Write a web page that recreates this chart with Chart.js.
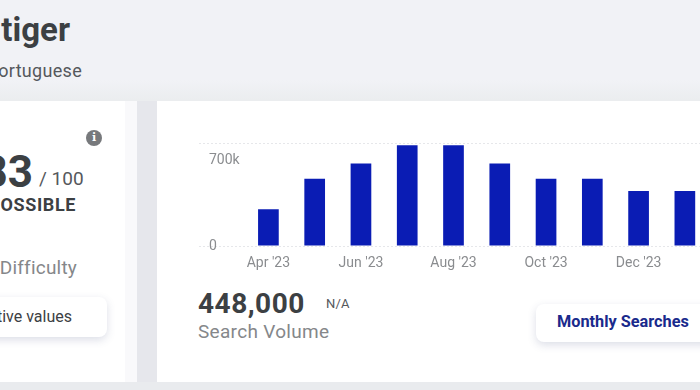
<!DOCTYPE html>
<html>
<head>
<meta charset="utf-8">
<script src="https://cdn.jsdelivr.net/npm/chart.js@4/dist/chart.umd.min.js"></script>
<style>
    html, body { margin: 0; padding: 0; }
    body { width: 700px; height: 390px; overflow: hidden; position: relative; background: linear-gradient(#f1f2f6 0, #f1f2f6 80px, #ebedef 100px); font-family: Roboto, sans-serif; }
    .txt { position: absolute; white-space: nowrap; line-height: 1; }
    .right { text-align: right; }
    .card { position: absolute; background: #fff; }
    .btn { position: absolute; background: #fff; border-radius: 8px; box-shadow: 0 3px 9px rgba(60, 70, 120, .18); }
    #chartBox { position: absolute; left: 199px; top: 125px; width: 509px; height: 155px; }
</style>
</head>
<body>
    <div style="position:absolute;left:0;top:382px;width:700px;height:8px;background:#e9ebee"></div>
    <div style="position:absolute;left:137px;top:101px;width:20px;height:281px;background:#e6e7ec"></div>
    <div class="card" style="left:0;top:101px;width:137px;height:281px;background:#f9f9fb"></div>
    <div class="card" style="left:0;top:101px;width:125px;height:281px"></div>
    <div class="card" style="left:157px;top:101px;width:543px;height:281px"></div>

    <div class="txt right" style="right:630px;top:13px;font-size:33px;font-weight:700;color:#3c4043">tiger</div>
    <div class="txt right" style="right:618px;top:62px;font-size:18px;color:#55585c;letter-spacing:.3px">Portuguese</div>

    <div class="txt right" style="right:667px;top:150px;font-size:44px;font-weight:700;color:#3c4043">83</div>
    <div class="txt" style="left:39px;top:169px;font-size:19px;color:#55585c">/ 100</div>
    <div class="txt right" style="right:624px;top:196px;font-size:18px;font-weight:700;color:#3c4043;letter-spacing:.6px">IMPOSSIBLE</div>
    <div class="txt right" style="right:623px;top:258px;font-size:19px;color:#85878a;letter-spacing:.2px">Keyword Difficulty</div>
    <div class="txt" style="left:86px;top:130px;width:16px;height:16px;border-radius:50%;background:#77797c;color:#fff;font:700 11px/16px 'DejaVu Serif',serif;text-align:center">i</div>
    <div class="btn" style="left:-20px;top:297px;width:127px;height:40px"></div>
    <div class="txt right" style="right:628px;top:309px;font-size:16px;color:#3c4043">Relative values</div>

    <div id="chartBox"><canvas id="volumeChart"></canvas></div>

    <div class="txt" style="left:198px;top:290px;font-size:28px;font-weight:700;color:#3c4043;letter-spacing:.5px">448,000</div>
    <div class="txt" style="left:326px;top:297px;font-size:13px;color:#55585c;letter-spacing:.2px">N/A</div>
    <div class="txt" style="left:198px;top:322px;font-size:19px;color:#85878a;letter-spacing:.3px">Search Volume</div>
    <div class="btn" style="left:536px;top:304px;width:190px;height:38px"></div>
    <div class="txt" style="left:557px;top:314px;font-size:16.3px;font-weight:700;color:#1a2a8c">Monthly Searches</div>

<script>
// 첫 칸은 y축 라벨 자리로 비워 둔다
const months = ['', "Apr '23", "May '23", "Jun '23", "Jul '23", "Aug '23", "Sep '23", "Oct '23", "Nov '23", "Dec '23", "Jan '24"];
const searches = [null, 301000, 550000, 673000, 823000, 823000, 673000, 550000, 550000, 450000, 450000];
const yTicks = [0, 700000, 838000];
const yTickLabels = ['0', '700k', ''];

new Chart(document.getElementById('volumeChart').getContext('2d'), {
    type: 'bar',
    data: {
        labels: months,
        datasets: [{
            data: searches,
            backgroundColor: '#0a1cb4',
            barPercentage: 0.447,
            categoryPercentage: 1,
        }],
    },
    options: {
        responsive: true,
        maintainAspectRatio: false,
        animation: false,
        plugins: { legend: { display: false }, tooltip: { enabled: false } },
        scales: {
            x: {
                afterFit: (scale) => { scale.height = 34; },
                border: { display: false },
                grid: { display: false },
                ticks: {
                    autoSkip: false,
                    maxRotation: 0,
                    padding: 1,
                    color: '#8a8c8f',
                    font: { family: 'Roboto', size: 14 },
                    callback: (value, index) => (index % 2 === 1 ? months[index] : ''), // 한 달 건너 표시
                },
            },
            y: {
                min: 0,
                max: 838000,
                afterBuildTicks: (scale) => { scale.ticks = yTicks.map((value) => ({ value })); },
                afterFit: (scale) => { scale.width = 0; }, // 라벨이 차트 안쪽에 있음
                border: { display: false, dash: [2, 2] },
                grid: {
                    drawTicks: false,
                    color: (ctx) => (ctx.tick.value === 700000 ? 'transparent' : '#e6e7ea'),
                },
                ticks: {
                    mirror: true,
                    padding: 10,
                    color: '#8a8c8f',
                    font: { family: 'Roboto', size: 14 },
                    callback: (value, index) => yTickLabels[index],
                },
            },
        },
    },
});
</script>
</body>
</html>
